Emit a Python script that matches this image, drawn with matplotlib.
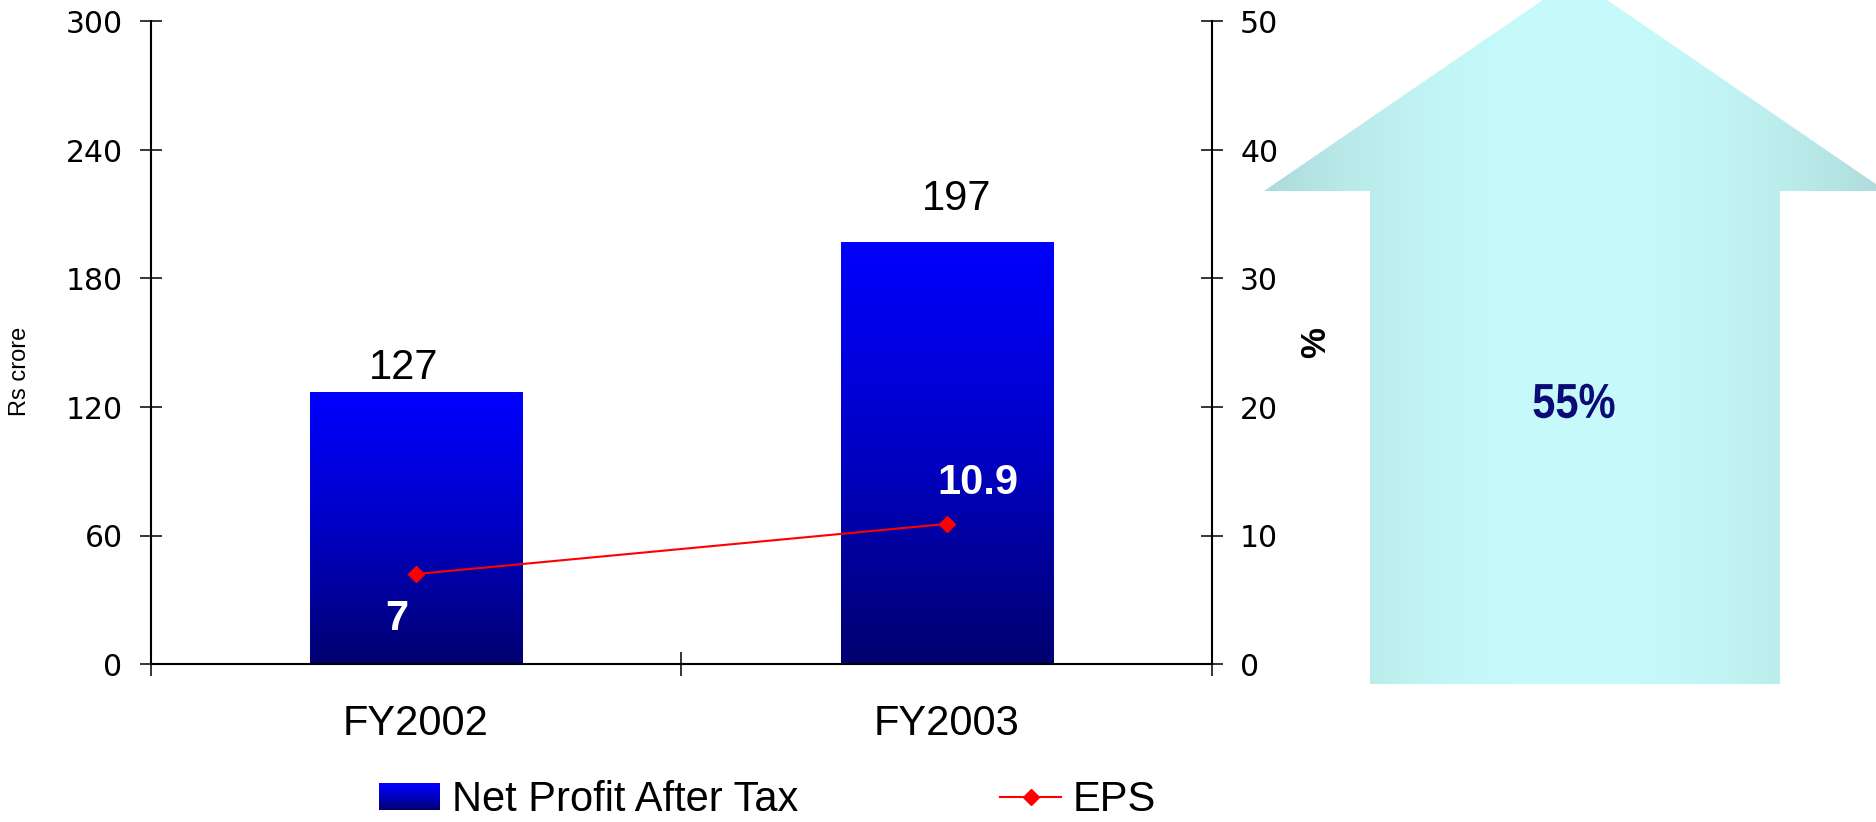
import numpy as np
import matplotlib
matplotlib.use("Agg")
import matplotlib.pyplot as plt
from matplotlib.patches import Polygon, Rectangle, PathPatch
from matplotlib.lines import Line2D
from matplotlib.legend_handler import HandlerBase
from matplotlib.colors import LinearSegmentedColormap, to_rgb
from matplotlib.textpath import TextPath
from matplotlib.font_manager import FontProperties
from matplotlib.transforms import Affine2D

# data
years = ["FY2002", "FY2003"]
net_profit = [127, 197]          # Rs crore, left axis
eps = [7, 10.9]                  # right axis
eps_labels = ["7", "10.9"]
growth_label = "55%"
left_ticks = [0, 60, 120, 180, 240, 300]
right_ticks = [0, 10, 20, 30, 40, 50]

# label nudges (pixels)
profit_label_offset = [(-12, 13), (10, 32)]
eps_label_offset = [(-19, -45), (31, 41)]

W, H = 1876, 822
SANS = ["Liberation Sans", "DejaVu Sans"]
TICKFONT = ["DejaVu Sans"]

fig = plt.figure(figsize=(W / 100, H / 100), dpi=100)
fig.patch.set_facecolor("white")

# ---- big up arrow on the right (figure pixel coords) ----
axf = fig.add_axes([0, 0, 1, 1], zorder=-1)
axf.set_xlim(0, W)
axf.set_ylim(H, 0)
axf.axis("off")

arrow_pts = [(1370, 684), (1370, 191), (1264, 191), (1575, -22),
             (1886, 191), (1780, 191), (1780, 684)]
arrow = Polygon(arrow_pts, closed=True, facecolor="none", edgecolor="none")
axf.add_patch(arrow)
u = np.linspace(-1, 1, 500)
t = np.abs(u) ** 2
c_mid = np.array(to_rgb("#c7fbfb"))
c_edge = np.array(to_rgb("#addada"))
grad = (c_mid[None, :] * (1 - t[:, None]) + c_edge[None, :] * t[:, None])[None, :, :]
axf.imshow(grad, extent=[1264, 1886, 684, -22], aspect="auto", clip_path=arrow,
           interpolation="bilinear")
axf.set_xlim(0, W)
axf.set_ylim(H, 0)

# condensed bold "55%" drawn as a squeezed text path
tp = TextPath((0, 0), growth_label, size=49,
              prop=FontProperties(family="Liberation Sans", weight="bold"))
bb = tp.get_extents()
sx, sy = 0.85, 1.0
cx, cy = 1574, 401
tr = (Affine2D().translate(-(bb.x0 + bb.x1) / 2, -(bb.y0 + bb.y1) / 2)
      .scale(sx, -sy).translate(cx, cy))
axf.add_patch(PathPatch(tr.transform_path(tp), facecolor="#0b0b78",
                        edgecolor="none"))

# ---- main chart ----
ax = fig.add_axes([150.7 / W, 1 - 664 / H, (1212 - 150.7) / W, (664 - 21.5) / H])
bar_cmap = LinearSegmentedColormap.from_list(
    "npat", [(0, "#000070"), (0.5, "#0000c4"), (1, "#0000ff")])

x = np.arange(len(years))
bars = ax.bar(x, net_profit, width=0.4, color="none", zorder=2)
col = np.linspace(0, 1, 256).reshape(-1, 1)
for b in bars:
    x0, w, h = b.get_x(), b.get_width(), b.get_height()
    ax.imshow(col, extent=[x0, x0 + w, 0, h], origin="lower", cmap=bar_cmap,
              aspect="auto", zorder=2, clip_path=b)

for xi, v, off in zip(x, net_profit, profit_label_offset):
    ax.annotate(str(v), xy=(xi, v), xytext=off, textcoords="offset pixels",
                ha="center", va="baseline", fontsize=30, family=SANS)

ax.set_xlim(-0.5, 1.5)
ax.set_ylim(0, 300)
ax.set_aspect("auto")
ax.set_yticks(left_ticks)
ax.set_xticks(x)
ax.set_xticklabels(years, fontsize=30, family=SANS)
ax.set_xticks([-0.5, 0.5, 1.5], minor=True)
ax.tick_params(axis="x", which="major", length=0, pad=29)
ax.tick_params(axis="x", which="minor", direction="inout", length=17, width=1.1)
ax.tick_params(axis="y", direction="inout", length=16.5, width=1.1, pad=12,
               labelsize=21.5)
for lab in ax.get_yticklabels():
    lab.set_family(TICKFONT)
for s in ["top", "right"]:
    ax.spines[s].set_visible(False)
for s in ["left", "bottom"]:
    ax.spines[s].set_linewidth(1.5)

ax2 = ax.twinx()
ax2.plot(x, eps, color="red", lw=1.5, marker="D", markersize=8, zorder=3)
for xi, v, lab, off in zip(x, eps, eps_labels, eps_label_offset):
    ax2.annotate(lab, xy=(xi, v), xytext=off, textcoords="offset pixels",
                 ha="center", va="center", fontsize=30, fontweight="bold",
                 color="white", family=SANS)
ax2.set_ylim(0, 50)
ax2.set_yticks(right_ticks)
ax2.tick_params(axis="y", direction="inout", length=16.5, width=1.1, pad=12,
                labelsize=21.5)
for lab in ax2.get_yticklabels():
    lab.set_family(TICKFONT)
for s in ["top", "left", "bottom"]:
    ax2.spines[s].set_visible(False)
ax2.spines["right"].set_linewidth(1.5)

fig.text(20 / W, 1 - 371 / H, "Rs crore", rotation=90, ha="center", va="center",
         fontsize=17, family=SANS)
fig.text(1316 / W, 1 - 343 / H, "%", rotation=90, ha="center", va="center",
         fontsize=25, fontweight="bold", family=SANS)


# ---- legend ----
class GradientBarHandler(HandlerBase):
    def create_artists(self, legend, orig_handle, xdescent, ydescent,
                       width, height, fontsize, trans):
        n = 30
        parts = []
        for i in range(n):
            parts.append(Rectangle((-xdescent, -ydescent + height * i / n), width,
                                   height / n + 0.4, facecolor=bar_cmap((i + 0.5) / n),
                                   edgecolor="none", transform=trans))
        return parts


bar_proxy = Rectangle((0, 0), 1, 1)
line_proxy = Line2D([], [], color="red", lw=1.5, marker="D", markersize=8)
fig.legend([bar_proxy, line_proxy], ["Net Profit After Tax", "EPS"],
           loc="center left", bbox_to_anchor=(379 / W, 1 - 800 / H), ncol=2,
           frameon=False, prop={"family": SANS, "size": 30},
           handlelength=1.47, handleheight=0.6, handletextpad=0.27,
           columnspacing=4.85, borderpad=0, borderaxespad=0,
           handler_map={bar_proxy: GradientBarHandler()})

fig.savefig("out.png", dpi=100)
